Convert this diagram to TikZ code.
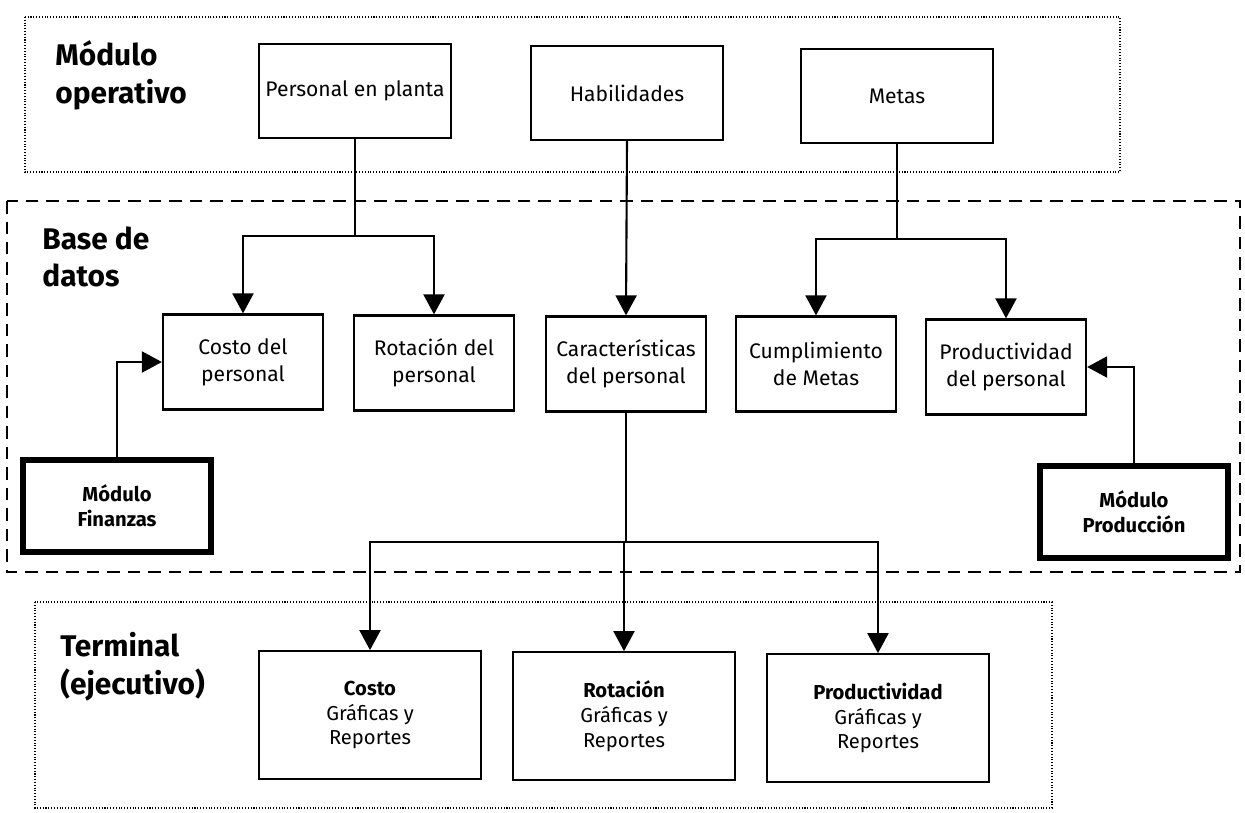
\documentclass[tikz,border=0pt]{standalone}
\usepackage{fontspec}
\setmainfont{Fira Sans}
\usepackage{tikz}
\usetikzlibrary{arrows.meta, positioning, calc}
\definecolor{mydark}{RGB}{0,0,0}
\tikzset{
  box/.style={rectangle, draw=mydark, fill=white,
    minimum width=3.2cm, minimum height=1.9cm, align=center,
    font=\fontsize{12}{15.4}\selectfont, line width=1.3pt, inner sep=1pt},
  topbox/.style={box, minimum width=3.85cm, minimum height=1.88cm},
  modbox/.style={rectangle, draw=mydark, fill=white,
    minimum width=3.75cm, minimum height=1.85cm, align=center,
    font=\fontsize{11.5}{14.2}\selectfont\bfseries, line width=3.2pt},
  repbox/.style={rectangle, draw=mydark, fill=white,
    minimum width=4.45cm, minimum height=2.55cm, align=center,
    font=\fontsize{11.5}{14.2}\selectfont, line width=1.3pt},
  layer/.style={font=\fontsize{17}{21.6}\selectfont\bfseries,
    align=left, anchor=north west, inner sep=0pt},
  dotframe/.style={draw=mydark, densely dotted, line width=0.6pt},
  dashframe/.style={draw=mydark, dash pattern=on 0.25cm off 0.16cm, line width=1.2pt},
  arrow/.style={-{Triangle[width=0.42cm,length=0.4cm]}, line width=1.2pt, color=mydark},
  line/.style={line width=1.2pt, color=mydark}
}

\begin{document}
% one unit = one pixel of the 1245x812 layout, y grows downwards
\begin{tikzpicture}[x=0.02cm, y=-0.02cm]
  \useasboundingbox (0,0) rectangle (1245,812);

  % layer frames
  \draw[dotframe] (25,17) rectangle (1120,172);
  \draw[dashframe] (7,201) rectangle (1240,572);
  \draw[dotframe] (35,602) rectangle (1052,808);

  \node[layer] (lop) at (55,40) {Módulo\\operativo};
  \node[layer] (ldb) at (42,226) {Base de\\datos};
  \node[layer] (lterm) at (60,632) {Terminal\\(ejecutivo)};

  % operative module
  \node[topbox] (plant) at (355,91) {Personal en planta};
  \node[topbox] (skill) at (627,93) {Habilidades};
  \node[topbox] (goals) at (897,96) {Metas};

  % database
  \node[box] (cost) at (243,362) {Costo del\\personal};
  \node[box] (rot) at (434,363) {Rotación del\\personal};
  \node[box] (feat) at (626,364) {Características\\del personal};
  \node[box] (meet) at (816,364) {Cumplimiento\\de Metas};
  \node[box] (prod) at (1006,367) {Productividad\\del personal};

  \node[modbox] (fin) at (117,506) {Módulo\\Finanzas};
  \node[modbox] (mprod) at (1134,512) {Módulo\\Producción};

  % executive terminal
  \node[repbox] (rcost) at (370,715) {\textbf{Costo}\\Gráficas y\\Reportes};
  \node[repbox] (rrot) at (624,716) {\textbf{Rotación}\\Gráficas y\\Reportes};
  \node[repbox] (rprod) at (878,718) {\textbf{Productividad}\\Gráficas y\\Reportes};

  % connectors
  \draw[arrow] (plant.south) -- ++(0,97) -| (cost.north);
  \draw[arrow] (plant.south) -- ++(0,97) -| (rot.north);
  \draw[arrow] (skill.south) -- (feat.north);
  \draw[arrow] (goals.south) -- ++(0,95) -| (meet.north);
  \draw[arrow] (goals.south) -- ++(0,95) -| (prod.north);
  \draw[arrow] (fin.north) |- (cost.west);
  \draw[arrow] (mprod.north) |- (prod.east);
  \draw[arrow] (feat.south) -- ++(0,129) -| (rcost.north);
  \draw[arrow] (feat.south) -- ++(0,129) -| (rrot.north);
  \draw[arrow] (feat.south) -- ++(0,129) -| (rprod.north);
\end{tikzpicture}
\end{document}
